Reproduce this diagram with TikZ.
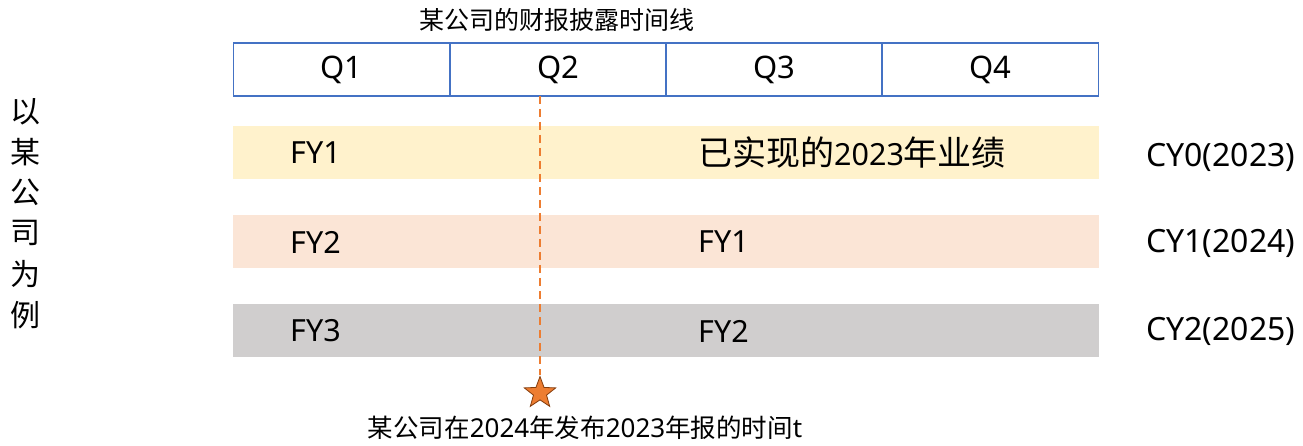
\documentclass[tikz,border=0pt]{standalone}
\usepackage{fontspec}
\setmainfont{Noto Sans}
\newfontfamily\cjk{Noto Sans CJK SC}
\usetikzlibrary{shapes.geometric}
\definecolor{qblue}{HTML}{4472C4}
\definecolor{byellow}{HTML}{FFF2CC}
\definecolor{bpink}{HTML}{FBE5D6}
\definecolor{bgray}{HTML}{D0CECE}
\definecolor{sorange}{HTML}{ED7D31}
\definecolor{sdark}{HTML}{843C0C}
\newcommand{\zh}[1]{{\cjk\fontsize{34}{36}\selectfont #1}}
\newcommand{\zs}[1]{{\cjk\fontsize{25.5}{30}\selectfont #1}}
\begin{document}
\begin{tikzpicture}[x=1pt,y=-1pt,
  qcell/.style={draw=qblue,line width=1.5pt,minimum width=216pt,minimum height=53pt,inner sep=0pt,font=\fontsize{31}{34}\selectfont},
  band/.style={draw=none,minimum width=866pt,minimum height=53pt,inner sep=0pt},
  lbl/.style={font=\fontsize{30.5}{34}\selectfont,anchor=west,inner sep=0pt},
  cyl/.style={font=\fontsize{32}{34}\selectfont,anchor=west,inner sep=0pt},
  vch/.style={font=\cjk\fontsize{30}{32}\selectfont,inner sep=0pt}]
\useasboundingbox (0,0) rectangle (1303,446);
% quarters
\node[qcell] (q1) at (341.5,69.5) {Q1};
\node[qcell] (q2) at (558,69.5) {Q2};
\node[qcell] (q3) at (774,69.5) {Q3};
\node[qcell] (q4) at (990.5,69.5) {Q4};
\node[font=\cjk\fontsize{25}{28}\selectfont] (title) at (557,20) {某公司的财报披露时间线};
% bands
\node[band,fill=byellow] (b0) at (666,152.5) {};
\node[band,fill=bpink] (b1) at (666,241.5) {};
\node[band,fill=bgray] (b2) at (666,330.5) {};
\node[lbl] (fy1a) at (290,153) {FY1};
\node[lbl] (cur) at (698,153) {\zh{已实现的}2023\zh{年业绩}};
\node[lbl] (fy2a) at (290,242) {FY2};
\node[lbl] (fy1b) at (698,242) {FY1};
\node[lbl] (fy3a) at (290,331) {FY3};
\node[lbl] (fy2b) at (698,331) {FY2};
\node[cyl] (cy0) at (1146,157) {CY0(2023)};
\node[cyl] (cy1) at (1146,243) {CY1(2024)};
\node[cyl] (cy2) at (1146,331) {CY2(2025)};
% star and dashed line
\coordinate (top) at (540,96);
\node[star,star points=5,star point ratio=2.4,minimum size=33pt,inner sep=0pt,fill=sorange,draw=sdark,line width=0.8pt] (st) at (540,393) {};
\draw[sorange,line width=2pt,dash pattern=on 8pt off 5pt] (top) -- (st.north);
\node[font=\fontsize{26}{28}\selectfont,inner sep=0pt] (note) at (585,428) {\zs{某公司在}2024\zs{年发布}2023\zs{年报的时间}t};
% vertical label
\node[vch] (v1) at (25,112) {以};
\node[vch] (v2) at (25,152) {某};
\node[vch] (v3) at (25,192) {公};
\node[vch] (v4) at (25,233) {司};
\node[vch] (v5) at (25,274) {为};
\node[vch] (v6) at (25,315) {例};
\end{tikzpicture}
\end{document}
